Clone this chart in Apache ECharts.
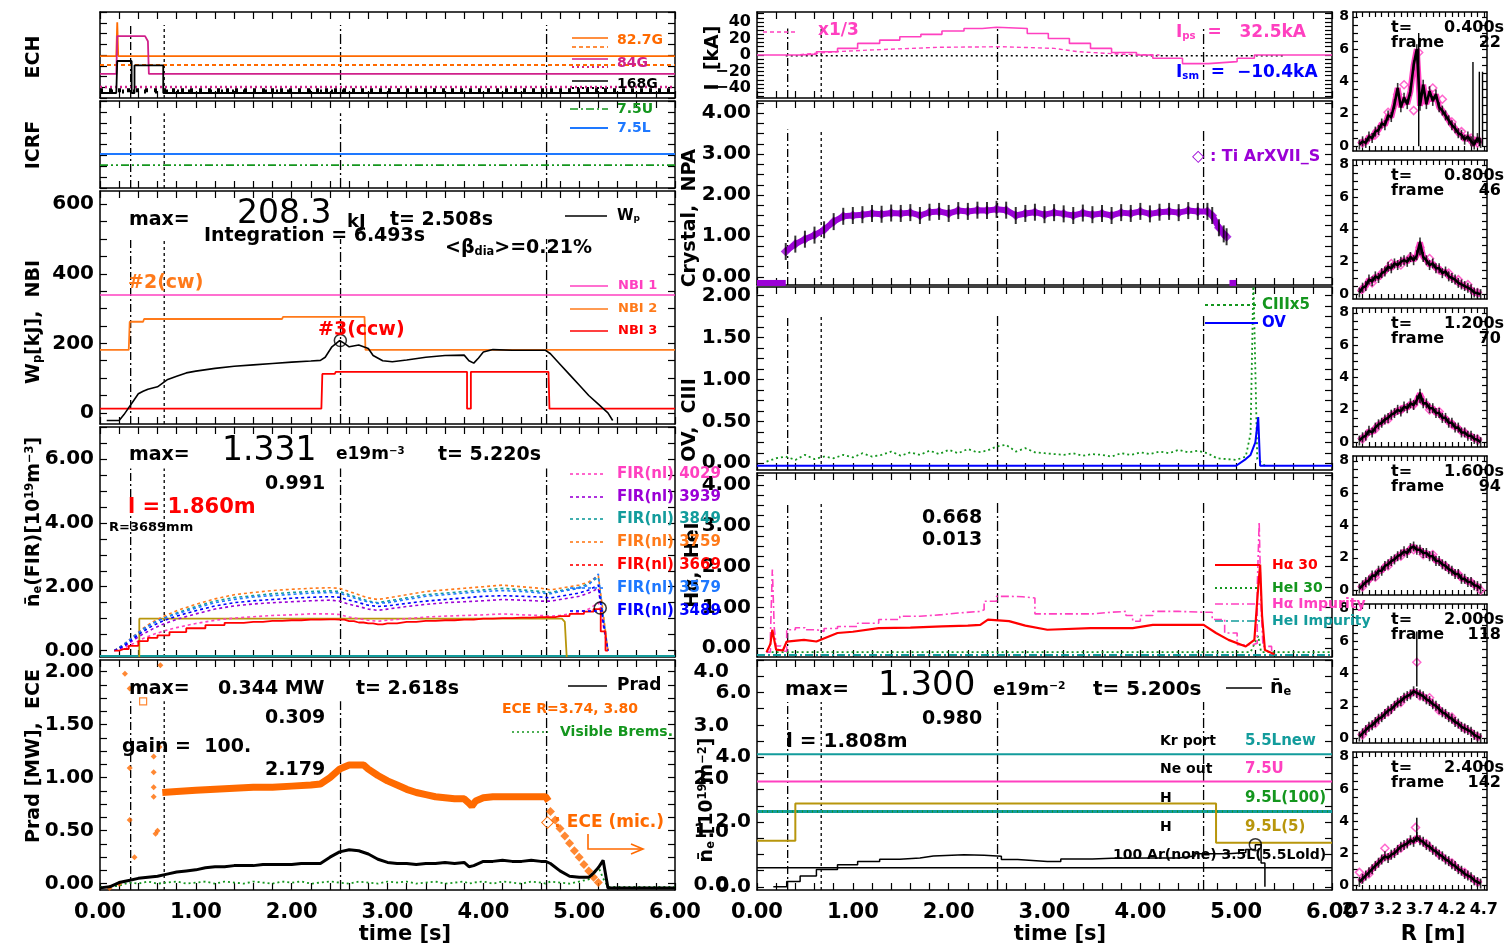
<!DOCTYPE html>
<html><head><meta charset="utf-8">
<script src="https://cdn.jsdelivr.net/npm/echarts@6/dist/echarts.min.js"></script>
<style>html,body{margin:0;padding:0;background:#fff}#c{width:1506px;height:948px}</style>
</head><body><div id="c"></div>
<script>
// ---------------- DATA ----------------
const TIME_LABELS = [0,1,2,3,4,5,6];
const R_LABELS = [2.7,3.2,3.7,4.2,4.7];
const VLINES = [0.32, 0.67, 2.51, 4.66];

// ECH (arb. units)
const ech827  = [[0,4.88],[0.17,4.88],[0.18,8.8],[0.19,4.88],[6,4.88]];
const ech827d = [[0,3.84],[6,3.84]];
const ech84   = [[0,2.8],[0.17,2.8],[0.18,7.2],[0.47,7.2],[0.5,6.6],[0.51,2.8],[6,2.8]];
const ech84d  = [[0,1.28],[6,1.28]];
const ech168  = [[0,0.58],[0.17,0.58],[0.18,4.3],[0.33,4.3],[0.33,0.58],[0.36,0.58],[0.36,3.8],[0.66,3.8],[0.66,0.58],[6,0.58]];
const ech168d = [[0,0.9],[6,0.9]];
const ech168n = [[0,0.75],[2.7,0.75]];
// ICRF
const icrf75L = [[0,3.9],[6,3.9]];
const icrf75U = [[0,2.64],[6,2.64]];
// Wp / NBI
const wpT = [0.07,0.2,0.25,0.3,0.35,0.4,0.45,0.5,0.6,0.65,0.7,0.8,0.9,1.0,1.2,1.4,1.6,1.8,2.0,2.2,2.3,2.35,2.42,2.5,2.55,2.6,2.7,2.8,2.85,2.95,3.05,3.2,3.4,3.6,3.8,3.85,3.9,3.95,4.0,4.1,4.3,4.65,4.7,4.8,4.9,5.0,5.1,5.2,5.3,5.35];
const wpV = [-22,-22,-5,15,35,55,62,68,75,85,95,105,115,120,128,134,138,142,146,149,151,160,190,208,200,190,195,185,165,150,147,152,160,165,166,150,143,158,175,182,180,180,170,140,110,80,50,25,0,-22];
const nbi1 = [[0,339],[6,339]];
const nbi2 = [[0,181],[0.3,181],[0.31,262],[0.45,262],[0.46,270],[1.9,270],[1.91,276],[2.76,276],[2.77,181],[6,181]];
const nbi3 = [[0,12],[2.31,12],[2.32,112],[2.45,112],[2.46,118],[3.83,118],[3.83,12],[3.87,12],[3.87,118],[4.68,118],[4.69,12],[6,12]];
const wpMax = [[2.508,208.3]];
// FIR line density
const tF = [0.15,0.25,0.35,0.45,0.55,0.65,0.8,1.0,1.2,1.4,1.6,1.8,2.0,2.2,2.4,2.5,2.6,2.7,2.8,2.9,3.0,3.2,3.4,3.6,3.8,4.0,4.2,4.4,4.6,4.7,4.8,5.0,5.1,5.2,5.25,5.3];
const fir4029 = [0.0,0.08,0.22,0.38,0.5,0.6,0.72,0.85,0.95,1.02,1.06,1.1,1.12,1.15,1.15,1.13,1.05,1.0,0.95,0.92,0.95,1.0,1.05,1.08,1.1,1.12,1.15,1.12,1.1,1.08,1.1,1.2,1.3,1.5,0.8,0.0];
const fir3939 = [0.0,0.12,0.33,0.52,0.68,0.82,0.98,1.15,1.3,1.4,1.46,1.5,1.53,1.56,1.58,1.55,1.45,1.38,1.3,1.26,1.3,1.38,1.45,1.5,1.53,1.56,1.6,1.58,1.55,1.55,1.6,1.7,1.8,1.95,0.9,0.0];
const fir3849 = [0.0,0.18,0.42,0.66,0.85,1.0,1.18,1.38,1.55,1.66,1.72,1.78,1.82,1.85,1.87,1.85,1.75,1.65,1.55,1.5,1.55,1.65,1.75,1.8,1.85,1.9,1.95,1.9,1.85,1.82,1.88,1.98,2.1,2.3,1.1,0.0];
const fir3759 = [0.0,0.2,0.45,0.7,0.9,1.05,1.25,1.45,1.62,1.75,1.82,1.88,1.92,1.95,1.97,1.95,1.85,1.75,1.65,1.6,1.65,1.75,1.85,1.9,1.95,2.0,2.05,2.0,1.95,1.9,1.95,2.05,2.15,2.35,1.2,0.0];
const fir3669 = [0.0,0.05,0.15,0.3,0.4,0.48,0.58,0.7,0.8,0.87,0.9,0.93,0.95,0.97,0.98,0.97,0.92,0.88,0.85,0.82,0.85,0.9,0.93,0.95,0.97,1.0,1.02,1.03,1.05,1.05,1.08,1.15,1.22,1.3,0.6,0.0];
const fir3579 = [0.0,0.2,0.44,0.68,0.86,1.0,1.15,1.33,1.5,1.6,1.68,1.72,1.76,1.8,1.82,1.8,1.7,1.6,1.52,1.48,1.5,1.6,1.7,1.75,1.8,1.85,1.88,1.85,1.8,1.78,1.85,1.95,2.05,2.4,1.0,0.0];
const fir3489 = [0.0,0.15,0.38,0.6,0.78,0.92,1.08,1.25,1.4,1.5,1.56,1.6,1.64,1.67,1.69,1.67,1.58,1.5,1.42,1.38,1.4,1.48,1.55,1.6,1.65,1.7,1.72,1.7,1.68,1.65,1.7,1.8,1.9,2.05,0.9,0.0];
const firGold = [[0.41,-0.2],[0.41,1.0],[4.82,1.0],[4.85,0.9],[4.87,-0.2]];
const firBase = [[0,-0.17],[6,-0.17]];
const firMax = [[5.22,1.331]];
// Prad / ECE
const tP = [0,0.1,0.2,0.3,0.4,0.5,0.6,0.7,0.8,0.9,1.0,1.1,1.2,1.3,1.4,1.5,1.6,1.7,1.8,1.9,2.0,2.1,2.2,2.3,2.4,2.5,2.6,2.7,2.8,2.9,3.0,3.1,3.2,3.3,3.4,3.5,3.6,3.7,3.8,3.85,3.9,4.0,4.1,4.2,4.3,4.4,4.5,4.6,4.65,4.7,4.8,4.9,5.0,5.1,5.15,5.2,5.25,5.3,5.4,6.0];
const prad = [-0.04,-0.03,0.01,0.03,0.05,0.06,0.07,0.09,0.11,0.12,0.13,0.15,0.16,0.16,0.17,0.17,0.17,0.18,0.18,0.18,0.18,0.19,0.19,0.19,0.25,0.3,0.32,0.31,0.28,0.23,0.2,0.19,0.19,0.18,0.19,0.19,0.2,0.19,0.2,0.16,0.17,0.21,0.21,0.22,0.21,0.21,0.22,0.21,0.21,0.19,0.12,0.07,0.06,0.06,0.1,0.15,0.22,-0.04,-0.04,-0.04];
const brems = [-0.03,-0.03,-0.02,0.01,0.0,0.02,0.0,0.01,0.02,0.0,0.01,0.02,0.0,0.02,0.01,0.0,0.02,0.01,0.0,0.02,0.01,0.02,0.0,0.01,0.02,0.01,0.0,0.02,0.01,0.0,0.02,0.01,0.02,0.0,0.01,0.02,0.0,0.01,0.02,0.0,0.01,0.02,0.0,0.02,0.01,0.0,0.02,0.01,0.0,0.02,0.01,0.0,0.02,0.04,0.08,0.16,0.05,-0.03,-0.03,-0.03];
const tE = [0.65,0.8,1.0,1.2,1.4,1.6,1.8,2.0,2.2,2.3,2.4,2.5,2.55,2.6,2.7,2.75,2.8,2.9,3.0,3.1,3.2,3.3,3.4,3.5,3.6,3.7,3.8,3.85,3.88,3.92,4.0,4.1,4.3,4.5,4.65,4.68];
const ece = [0.86,0.87,0.88,0.89,0.9,0.91,0.91,0.92,0.93,0.94,1.0,1.08,1.1,1.12,1.12,1.12,1.08,1.02,0.97,0.93,0.89,0.86,0.84,0.82,0.81,0.8,0.8,0.76,0.73,0.78,0.81,0.82,0.82,0.82,0.82,0.78];
const eceMic = [[4.7,0.68],[4.75,0.6],[4.8,0.52],[4.85,0.45],[4.9,0.38],[4.95,0.31],[5.0,0.25],[5.05,0.18],[5.1,0.12],[5.15,0.06],[5.2,0.01]];
const eceEarly = [[0.26,1.98],[0.31,1.84],[0.31,1.09],[0.31,0.6],[0.36,0.25],[0.56,1.2],[0.56,1.05],[0.56,0.91],[0.56,0.82],[0.58,0.47],[0.63,2.06],[0.62,1.29],[0.6,0.5],[0.2,0.0],[0.1,-0.04]];
const eceSq = [[0.45,1.72]];
// Ip (kA)
const ipSolid = [[0,0],[0.4,0],[0.45,1],[0.62,4],[0.84,8],[1.05,14],[1.28,18],[1.49,22],[1.71,25],[1.93,29],[2.16,32],[2.35,33.5],[2.5,32],[2.82,26],[3.04,20],[3.26,14],[3.48,8],[3.7,3],[3.96,0],[4.13,-4],[4.44,-10.4],[4.71,-8],[5.01,-4],[5.19,0],[6,0]];
const ipThird = [[0.45,0.5],[0.83,4],[1.17,6],[1.9,9.3],[2.55,10],[3.1,8],[3.35,4],[3.8,1],[4.2,0]];
const ipZero = [[0.3,-1],[5.5,-1]];
// Crystal Ti
const tCry = [0.3,0.4,0.5,0.6,0.7,0.8,0.9,1.0,1.1,1.2,1.3,1.4,1.5,1.6,1.7,1.8,1.9,2.0,2.1,2.2,2.3,2.4,2.5,2.6,2.7,2.8,2.9,3.0,3.1,3.2,3.3,3.4,3.5,3.6,3.7,3.8,3.9,4.0,4.1,4.2,4.3,4.4,4.5,4.6,4.7,4.75,4.82,4.87,4.9];
const tiCry = [0.62,0.8,0.92,1.02,1.15,1.35,1.48,1.5,1.52,1.55,1.53,1.56,1.55,1.57,1.5,1.58,1.6,1.55,1.62,1.6,1.63,1.62,1.65,1.63,1.5,1.55,1.58,1.52,1.57,1.54,1.5,1.56,1.52,1.55,1.5,1.57,1.55,1.6,1.54,1.58,1.6,1.57,1.62,1.6,1.6,1.5,1.2,1.05,0.98];
const cryBase1 = [[0,-0.15],[0.3,-0.15]];
const cryBase2 = [[4.93,-0.15],[5.0,-0.15]];
// CIII / OV
const tC3 = [0.1,0.2,0.3,0.4,0.5,0.6,0.7,0.8,0.9,1.0,1.1,1.2,1.3,1.4,1.5,1.6,1.7,1.8,1.9,2.0,2.1,2.2,2.3,2.4,2.5,2.6,2.7,2.8,2.9,3.0,3.1,3.2,3.3,3.4,3.5,3.6,3.7,3.8,3.9,4.0,4.1,4.2,4.3,4.4,4.5,4.6,4.7,4.8,4.9,5.0,5.1,5.15,5.18,5.2,5.22,5.3];
const ciii = [0.02,0.06,0.08,0.04,0.1,0.05,0.08,0.06,0.1,0.07,0.12,0.08,0.1,0.14,0.09,0.13,0.1,0.15,0.11,0.16,0.12,0.17,0.13,0.15,0.2,0.22,0.14,0.18,0.13,0.12,0.11,0.1,0.12,0.09,0.11,0.1,0.08,0.12,0.1,0.13,0.11,0.14,0.12,0.16,0.13,0.15,0.12,0.06,0.05,0.04,0.08,0.35,2.2,2.2,0.05,-0.03];
const ov = [[0,-0.03],[5.0,-0.03],[5.1,0.05],[5.15,0.1],[5.2,0.25],[5.23,0.55],[5.25,-0.03],[6,-0.03]];
// H-alpha
const haImp = [[0.1,-0.1],[0.14,0.3],[0.16,1.93],[0.18,0.5],[0.2,0.05],[0.25,-0.08],[0.31,0.45],[0.4,0.5],[0.5,0.45],[0.62,0.41],[0.7,0.48],[0.84,0.53],[1.05,0.61],[1.27,0.7],[1.49,0.78],[1.7,0.82],[1.93,0.86],[2.1,0.9],[2.33,0.94],[2.37,1.15],[2.5,1.27],[2.65,1.26],[2.77,1.23],[2.9,0.84],[3.26,0.84],[3.5,0.88],[3.7,0.9],[3.85,0.8],[3.92,0.66],[4.0,0.8],[4.13,0.9],[4.4,0.88],[4.66,0.88],[4.75,0.7],[4.88,0.37],[5.01,0.08],[5.17,0.12],[5.22,1.5],[5.24,3.1],[5.26,1.0],[5.28,0.04],[5.37,-0.16]];
const ha30 = [[0.1,-0.1],[0.14,0.1],[0.16,0.45],[0.18,0.2],[0.2,-0.04],[0.27,-0.06],[0.31,0.16],[0.49,0.2],[0.62,0.16],[0.84,0.37],[1.0,0.4],[1.27,0.49],[1.6,0.5],[1.93,0.53],[2.2,0.55],[2.33,0.57],[2.41,0.7],[2.63,0.66],[2.8,0.55],[3.03,0.45],[3.48,0.49],[3.92,0.49],[4.13,0.57],[4.66,0.57],[4.79,0.37],[4.92,0.2],[5.1,0.04],[5.19,0.2],[5.23,1.5],[5.25,2.05],[5.27,0.8],[5.3,-0.05],[5.4,-0.15]];
const heI30 = [[0.1,-0.1],[5.15,-0.1],[5.23,0.3],[5.26,-0.1],[6,-0.1]];
const heIImp = [[0,-0.17],[6,-0.17]];
// line-averaged density & gas puffs
const neKr = [[0,4.09],[6,4.09]];
const neNe = [[0,3.25],[6,3.25]];
const neH100 = [[0,2.32],[6,2.32]];
const neH5 = [[0,1.42],[0.4,1.42],[0.4,2.57],[4.79,2.57],[4.79,1.36],[6,1.36]];
const neAr = [[0,0.59],[6,0.59]];
const neBar = [[0.17,0],[0.31,0.16],[0.45,0.33],[0.62,0.53],[0.84,0.68],[1.05,0.78],[1.28,0.85],[1.49,0.89],[1.7,0.95],[1.84,0.99],[2.16,0.97],[2.37,0.94],[2.55,0.84],[2.72,0.78],[3.03,0.78],[3.17,0.86],[3.5,0.88],[3.7,0.89],[4.13,0.89],[4.4,0.95],[4.57,1.02],[4.92,1.06],[5.1,1.15],[5.2,1.3],[5.26,0.73],[5.3,0]];
const neMax = [[5.2,1.3]];
// profiles vs R
const RS = [2.75,2.80,2.85,2.90,2.95,3.00,3.05,3.10,3.15,3.20,3.25,3.30,3.35,3.40,3.45,3.50,3.55,3.60,3.65,3.70,3.75,3.80,3.85,3.90,3.95,4.00,4.05,4.10,4.15,4.20,4.25,4.30,4.35,4.40,4.45,4.50,4.55,4.60,4.65];
const prof1 = [0.1,0.3,0.2,0.6,0.5,0.9,1.0,1.4,1.3,1.9,1.8,2.6,3.6,2.4,3.0,2.6,3.4,5.0,6.0,2.5,3.8,2.6,3.4,2.8,3.2,2.4,2.2,1.9,1.6,1.3,1.1,0.8,0.7,0.4,0.6,0.3,0.1,0.5,0.2];
const prof2 = [0.1,0.4,0.5,0.9,0.8,1.1,1.0,1.3,1.4,1.7,1.6,1.9,1.8,2.0,2.1,2.0,2.3,2.1,2.4,3.2,2.3,2.1,1.8,1.9,1.6,1.6,1.3,1.4,1.1,1.0,0.9,0.7,0.6,0.5,0.4,0.3,0.1,0.05,0.0];
const prof3 = [0.1,0.3,0.4,0.7,0.6,0.9,1.1,1.2,1.4,1.5,1.7,1.8,2.0,1.9,2.2,2.1,2.4,2.3,2.6,3.0,2.4,2.4,2.1,2.1,1.8,1.8,1.5,1.5,1.2,1.2,0.9,0.9,0.6,0.6,0.4,0.4,0.2,0.15,0.0];
const prof4 = [0.1,0.3,0.5,0.6,0.9,0.9,1.2,1.2,1.5,1.6,1.8,1.9,2.1,2.2,2.4,2.3,2.6,2.7,2.5,2.5,2.3,2.3,2.1,2.1,1.8,1.8,1.6,1.5,1.3,1.2,1.0,1.0,0.7,0.7,0.5,0.5,0.3,0.25,0.1];
const prof5 = [0.1,0.3,0.5,0.7,0.8,1.0,1.2,1.3,1.5,1.7,1.8,2.0,2.2,2.3,2.5,2.6,2.7,2.9,2.8,2.7,2.6,2.4,2.3,2.1,2.0,1.8,1.6,1.5,1.3,1.2,1.0,0.9,0.7,0.6,0.5,0.4,0.2,0.1,0.0];
const prof6 = [0.2,0.4,0.6,0.8,1.0,1.2,1.4,1.6,1.8,1.7,1.9,2.0,2.2,2.4,2.5,2.6,2.8,2.7,3.0,2.8,2.7,2.5,2.4,2.2,2.1,1.9,1.8,1.6,1.5,1.3,1.2,1.0,0.9,0.7,0.6,0.5,0.3,0.2,0.1];
const pink1 = [[2.8,0.2],[3.0,0.7],[3.2,2.1],[3.35,3.2],[3.45,3.8],[3.6,2.2],[3.68,5.8],[3.8,2.8],[3.9,3.6],[4.05,2.9],[4.2,1.5],[4.35,0.9],[4.5,0.5],[4.6,0.2]];
const pink2 = [[2.8,0.3],[2.95,0.7],[3.1,1.3],[3.25,1.9],[3.4,1.8],[3.55,2.3],[3.7,2.9],[3.85,2.2],[4.0,1.5],[4.15,1.3],[4.3,0.9],[4.45,0.6],[4.6,0.1]];
const pink3 = [[2.8,0.2],[3.0,0.8],[3.2,1.4],[3.4,2.0],[3.6,2.3],[3.7,2.8],[3.85,2.0],[4.0,1.9],[4.2,1.1],[4.4,0.6],[4.6,0.2]];
const pink4 = [[2.8,0.2],[3.0,0.8],[3.2,1.5],[3.4,2.1],[3.6,2.5],[3.75,2.2],[3.9,2.2],[4.1,1.5],[4.3,1.0],[4.5,0.5],[4.65,0.0]];
const pink5 = [[2.8,0.2],[3.0,0.9],[3.2,1.6],[3.4,2.2],[3.65,4.7],[3.7,2.6],[3.85,2.5],[4.0,1.7],[4.2,1.3],[4.4,0.6],[4.6,0.1]];
const pink6 = [[2.75,0.8],[2.9,0.7],[3.15,2.3],[3.4,2.3],[3.63,3.6],[3.8,2.6],[4.0,1.9],[4.2,1.4],[4.4,0.8],[4.6,0.2]];
const errBars = [
  [[[3.68,0],[3.68,7.0]],[[4.53,0],[4.53,5.2]],[[4.63,0],[4.63,4.6]],[[4.68,0],[4.68,4.6]]],
  [[[3.7,2.4],[3.7,3.3]]],
  [[[3.7,2.4],[3.7,3.1]]],
  [],
  [[[3.65,3.2],[3.65,6.6]]],
  [[[3.65,2.8],[3.65,4.2]]]
];
const FRAME_TIMES = ['0.400s','0.800s','1.200s','1.600s','2.000s','2.400s'];
const FRAME_NUMS = ['22','46','70','94','118','142'];

// ---------------- STYLE / LAYOUT ----------------
const FF = '"DejaVu Sans", sans-serif';
const C = {org:'#ff6a00', orgL:'#ff7a1a', pink:'#ff40c0', ech84:'#d0208a', red:'#ff0000', grn:'#14961e', blu:'#0000ff', azu:'#1e78ff', teal:'#139c9c', pur:'#9b00d6', gold:'#b8960c'};
const f2 = v => v.toFixed(2), f1 = v => v.toFixed(1), fi = v => (v < 0 ? '\u2212' + Math.abs(v) : String(v));
function rng(a,b,s){const r=[];for(let k=0;a+k*s<=b+1e-9;k++) r.push(Math.round((a+k*s)*1000)/1000);return r;}
function zip(a,b){return a.map((x,i)=>[x,b[i]]);}
const LX=100, MX=757, CW=575, RX=1353, RW=134;
const RTOPS = [12,160,308,456,604,752];
const panels = [
  {x:LX,w:CW,top:12,h:86,ymin:0,ymax:10,yt:rng(0,10,1.25),yl:[],vt:8.5},
  {x:LX,w:CW,top:101,h:87,ymin:0,ymax:10,yt:rng(0,10,1.25),yl:[],vt:8.6},
  {x:LX,w:CW,top:191,h:233,ymin:-32,ymax:638,yt:rng(0,600,50),yl:[0,200,400,600],fmt:String,vt:500},
  {x:LX,w:CW,top:427,h:230,ymin:-0.2,ymax:7.0,yt:rng(0,7,0.5),yl:[0,2,4,6],fmt:f2,vt:5.7},
  {x:LX,w:CW,top:660,h:230,ymin:-0.06,ymax:2.11,yt:rng(0,2,0.125),yl:[0,0.5,1,1.5,2],fmt:f2,vt:1.72,xl:true},
  {x:MX,w:CW,top:12,h:86,ymin:-52,ymax:52,yt:rng(-50,50,5),yl:[-40,-20,0,20,40],fmt:fi,vt:32,ls:16},
  {x:MX,w:CW,top:101,h:184,ymin:-0.2,ymax:4.3,yt:rng(0,4.25,0.25),yl:[0,1,2,3,4],fmt:f2,vt:3.6},
  {x:MX,w:CW,top:287,h:183,ymin:-0.08,ymax:2.1,yt:rng(0,2,0.125),yl:[0,0.5,1,1.5,2],fmt:f2,vt:1.76},
  {x:MX,w:CW,top:473,h:184,ymin:-0.22,ymax:4.3,yt:rng(0,4.25,0.25),yl:[0,1,2,3,4],fmt:f2,vt:3.58},
  {x:MX,w:CW,top:660,h:230,ymin:-0.1,ymax:7.0,yt:rng(0,7,0.5),yl:[0,2,4,6],fmt:f1,vt:5.7,xl:true}
];
RTOPS.forEach((t,k)=>panels.push({x:RX,w:RW,top:t,h:(k===5?138:139),ymin:-0.3,ymax:8.3,yt:rng(0,8,0.5),yl:[0,2,4,6,8],fmt:String,ls:14,xl:(k===5),R:true}));

const grid=[], xAxis=[], yAxis=[], series=[];
const axLine = {show:true, onZero:false, lineStyle:{color:'#000', width:1.5}};
function tick(vals,len){return {show:true, inside:true, length:len, customValues:vals, lineStyle:{color:'#000', width:1.2}};}
const TT = rng(0,6,0.2), RT = rng(2.7,4.7,0.1);
panels.forEach((p,i)=>{
  grid.push({left:p.x, top:p.top, width:p.w, height:p.h, show:false});
  const xmin = p.R?2.65:0, xmax = p.R?4.75:6, xt = p.R?RT:TT, tl = p.R?5:7;
  const lab = p.xl ? {show:true, hideOverlap:false, customValues:p.R?R_LABELS:TIME_LABELS, formatter:p.R?f1:f2, color:'#000', fontSize:p.R?16:21, fontWeight:'bold', fontFamily:FF, margin:12} : {show:false};
  xAxis.push({gridIndex:i, type:'value', position:'bottom', min:xmin, max:xmax, axisLine:axLine, axisTick:tick(xt,tl), splitLine:{show:false}, axisLabel:lab});
  xAxis.push({gridIndex:i, type:'value', position:'top', min:xmin, max:xmax, axisLine:axLine, axisTick:tick(xt,tl), splitLine:{show:false}, axisLabel:{show:false}});
  const ylab = p.yl.length ? {show:true, hideOverlap:false, customValues:p.yl, formatter:p.fmt, color:'#000', fontSize:p.ls||20, fontWeight:'bold', fontFamily:FF, margin:p.R?4:6} : {show:false};
  yAxis.push({gridIndex:i, type:'value', position:'left', min:p.ymin, max:p.ymax, axisLine:axLine, axisTick:tick(p.yt,p.R?5:7), splitLine:{show:false}, axisLabel:ylab});
  yAxis.push({gridIndex:i, type:'value', position:'right', min:p.ymin, max:p.ymax, axisLine:axLine, axisTick:tick(p.yt,p.R?5:7), splitLine:{show:false}, axisLabel:{show:false}});
});
// secondary left axis on bottom-middle panel
yAxis.push({gridIndex:9, type:'value', position:'left', offset:22, min:-0.094, max:4.23, axisLine:{show:false}, axisTick:{show:false}, splitLine:{show:false},
  axisLabel:{show:true, hideOverlap:false, customValues:[0,1,2,3,4], formatter:f1, color:'#000', fontSize:20, fontWeight:'bold', fontFamily:FF, margin:6}});

function ln(g,data,color,o){o=o||{};return {type:'line', xAxisIndex:2*g, yAxisIndex:2*g, data:data, symbol:'none', showSymbol:false, step:o.step||false,
  lineStyle:{color:color, width:o.w||1.5, type:o.d||'solid'}, z:o.z||3, silent:true, animation:false, clip:true};}
function sc(g,data,color,o){o=o||{};return {type:'scatter', xAxisIndex:2*g, yAxisIndex:2*g, data:data, symbol:o.sym||'circle', symbolSize:o.size||6,
  itemStyle:o.hollow?{color:'rgba(0,0,0,0)', borderColor:color, borderWidth:o.bw||1.5}:{color:color}, z:o.z||4, silent:true, animation:false};}
const DD=[8,3,2,3], DOT=[2,3], DASH=[4,3], D3=[8,3,2,3,2,3];
// vertical timing lines
const VSTY = [[8,3,2,3],[3,3],[10,3,2,3],[10,3,2,3]];
for(let g=0; g<10; g++){ const p=panels[g]; VLINES.forEach((t,k)=>series.push(ln(g,[[t,p.ymin],[t,p.vt]],'#000',{d:VSTY[k],w:1.3,z:2}))); }

// ECH
series.push(ln(0,ech827,C.org,{w:1.8}), ln(0,ech827d,C.org,{d:DASH,w:1.8}), ln(0,ech84,C.ech84,{w:1.8}), ln(0,ech84d,C.ech84,{d:DOT,w:2.5}),
  ln(0,ech168,'#000',{w:1.8}), ln(0,ech168d,'#000',{d:[3,6],w:4}), ln(0,ech168n,'#000',{d:[2,9],w:4}));
// ICRF
series.push(ln(1,icrf75L,C.azu,{w:2}), ln(1,icrf75U,C.grn,{d:D3,w:1.8}));
// Wp / NBI
series.push(ln(2,nbi1,C.pink,{w:1.5}), ln(2,nbi2,C.orgL,{w:1.8}), ln(2,nbi3,C.red,{w:1.8}), ln(2,zip(wpT,wpV),'#000',{w:1.6,z:5}),
  sc(2,wpMax,'#000',{size:12,hollow:true}));
// FIR
series.push(ln(3,firBase,C.teal,{w:2}), ln(3,firGold,C.gold,{w:1.8}),
  ln(3,zip(tF,fir4029),C.pink,{d:[3,3],w:1.6}), ln(3,zip(tF,fir3939),C.pur,{d:[3,3],w:1.6}), ln(3,zip(tF,fir3849),C.teal,{d:[3,3],w:1.6}),
  ln(3,zip(tF,fir3759),C.orgL,{d:[3,3],w:1.6}), ln(3,zip(tF,fir3579),C.azu,{d:[3,3],w:1.6}), ln(3,zip(tF,fir3489),C.blu,{d:[3,3],w:1.6}),
  ln(3,zip(tF,fir3669),C.red,{w:1.8,step:'middle'}), sc(3,firMax,'#000',{size:12,hollow:true}));
// Prad / ECE
series.push(ln(4,zip(tP,brems),C.grn,{d:DOT,w:1.8}), ln(4,zip(tE,ece),C.org,{w:7}), sc(4,eceMic,C.org,{sym:'diamond',size:9}),
  sc(4,eceEarly,C.org,{sym:'diamond',size:6}), sc(4,eceSq,C.org,{sym:'rect',size:7,hollow:true,bw:1.2}), ln(4,zip(tP,prad),'#000',{w:3,z:5}));
// Ip
series.push(ln(5,ipZero,'#000',{d:DOT,w:1.5,z:2}), ln(5,ipSolid,C.pink,{w:1.6,step:'end'}), ln(5,ipThird,C.pink,{d:DASH,w:1.4}));
// Crystal
series.push(ln(6,cryBase1,C.pur,{w:6}), ln(6,cryBase2,C.pur,{w:6}), ln(6,zip(tCry,tiCry),C.pur,{w:6}),
  sc(6,zip(tCry,tiCry),C.pur,{sym:'diamond',size:10}), sc(6,zip(tCry,tiCry),'#000',{sym:'rect',size:[2,17],z:6}));
// CIII / OV
series.push(ln(7,zip(tC3,ciii),C.grn,{d:DOT,w:1.8}), ln(7,ov,C.blu,{w:2}));
// H-alpha
series.push(ln(8,heIImp,C.teal,{d:DD,w:2}), ln(8,heI30,C.grn,{d:DOT,w:1.8}), ln(8,haImp,C.pink,{d:DD,w:1.6,step:'end'}), ln(8,ha30,C.red,{w:2.2}));
// ne + gas puffs
series.push(ln(9,neKr,C.teal,{w:1.8}), ln(9,neNe,C.pink,{w:1.8}), ln(9,neH100,C.teal,{w:3}), ln(9,neH100,C.grn,{d:[1,4],w:2}),
  ln(9,neH5,C.gold,{w:2}), ln(9,neAr,'#000',{w:1.5}), ln(9,neBar,'#000',{w:1.5,step:'end'}), sc(9,neMax,'#000',{size:12,hollow:true}));
// profiles
const PROFS=[prof1,prof2,prof3,prof4,prof5,prof6], PINKS=[pink1,pink2,pink3,pink4,pink5,pink6];
PROFS.forEach((pv,k)=>{ const g=10+k, d=zip(RS,pv);
  series.push(ln(g,d,C.pink,{w:6,z:2}), sc(g,PINKS[k],C.pink,{sym:'diamond',size:8,hollow:true,bw:1.5,z:3}), ln(g,d,'#000',{w:2.6,z:4}),
    sc(g,d,'#000',{sym:'rect',size:[1.6,10],z:5}));
  errBars[k].forEach(seg=>series.push(ln(g,seg,'#000',{w:1.4,z:5})));
});

// ---------------- TEXT ----------------
function rich(col,s){return {sub:{fontSize:s, verticalAlign:'bottom', fill:col, fontFamily:FF, fontWeight:'bold'}, sup:{fontSize:s, verticalAlign:'top', fill:col, fontFamily:FF, fontWeight:'bold'}};}
function T(x,y,s,o){o=o||{};return {type:'text', x:x, y:y, rotation:o.r||0, z:100, silent:true,
  style:{text:s, fill:o.c||'#000', fontSize:o.s||19, fontFamily:FF, fontWeight:o.w||'bold', align:o.a||'left', verticalAlign:'middle', rich:o.rich||rich(o.c||'#000',(o.s||19)*0.6)}};}
function GL(x1,y1,x2,y2,c,o){o=o||{};return {type:'line', z:100, silent:true, shape:{x1:x1,y1:y1,x2:x2,y2:y2}, style:{stroke:c, lineWidth:o.w||1.6, lineDash:o.d||null}};}
const RV = Math.PI/2;
const G = [
  // left titles
  T(34,57,'ECH',{r:RV,a:'center',s:19}), T(34,145,'ICRF',{r:RV,a:'center',s:19}),
  T(34,322,'W{sub|p}[kJ],  NBI',{r:RV,a:'center',s:19}),
  T(34,522,'n\u0304{sub|e}(FIR)[10{sup|19}m{sup|\u22123}]',{r:RV,a:'center',s:19}),
  T(34,756,'Prad [MW],  ECE',{r:RV,a:'center',s:19}),
  // middle titles
  T(713,58,'I  [kA]',{r:RV,a:'center',s:19}),
  T(690,218,'Crystal,  NPA',{r:RV,a:'center',s:19}),
  T(690,420,'OV,  CIII',{r:RV,a:'center',s:19}),
  T(693,565,'H\u03b1,  HeI',{r:RV,a:'center',s:19}),
  T(707,800,'n\u0304{sub|e} [10{sup|19}m{sup|\u22122}]',{r:RV,a:'center',s:19}),
  // ECH legend
  GL(572,38,608,38,C.org), GL(572,47,608,47,C.org,{d:[4,3]}), T(617,40,'82.7G',{c:C.org,s:14}),
  GL(572,59,608,59,C.ech84), GL(572,67,608,67,C.ech84,{d:[2,3],w:2}), T(617,63,'84G',{c:C.ech84,s:14}),
  GL(572,81,608,81,'#000'), GL(572,88,608,88,'#000',{d:[2,3],w:2}), T(617,84,'168G',{s:14}),
  // ICRF legend
  GL(570,109,608,109,C.grn,{d:[8,3,2,3]}), T(617,109,'7.5U',{c:C.grn,s:14}),
  GL(570,128,608,128,C.azu,{w:2}), T(617,128,'7.5L',{c:C.azu,s:14}),
  // Wp texts
  T(129,220,'max='), T(237,214,'208.3',{s:33,w:'normal'}), T(347,222,'kJ',{s:18}), T(390,220,'t= 2.508s'),
  T(204,236,'Integration = 6.493s'), T(445,248,'<\u03b2{sub|dia}>=0.21%'),
  T(128,283,'#2(cw)',{c:C.orgL}), T(318,330,'#3(ccw)',{c:C.red}),
  GL(565,216,607,216,'#000'), T(617,216,'W{sub|p}',{s:15}),
  GL(570,286,608,286,C.pink), T(618,286,'NBI 1',{c:C.pink,s:13}),
  GL(570,309,608,309,C.orgL), T(618,309,'NBI 2',{c:C.orgL,s:13}),
  GL(570,331,608,331,C.red), T(618,331,'NBI 3',{c:C.red,s:13}),
  // FIR texts
  T(129,455,'max='), T(222,451,'1.331',{s:33,w:'normal'}), T(336,455,'e19m{sup|\u22123}',{s:17}), T(438,455,'t= 5.220s'),
  T(265,484,'0.991'), T(128,508,'l = 1.860m',{c:C.red,s:21}), T(109,528,'R=3689mm',{s:13}),
  GL(570,474,604,474,C.pink,{d:[3,3]}), T(617,474,'FIR(nl) 4029',{c:C.pink,s:15}),
  GL(570,497,604,497,C.pur,{d:[3,3]}), T(617,497,'FIR(nl) 3939',{c:C.pur,s:15}),
  GL(570,519,604,519,C.teal,{d:[3,3]}), T(617,519,'FIR(nl) 3849',{c:C.teal,s:15}),
  GL(570,542,604,542,C.orgL,{d:[3,3]}), T(617,542,'FIR(nl) 3759',{c:C.orgL,s:15}),
  GL(570,565,604,565,C.red,{d:[3,3]}), T(617,565,'FIR(nl) 3669',{c:C.red,s:15}),
  GL(570,588,604,588,C.azu,{d:[3,3]}), T(617,588,'FIR(nl) 3579',{c:C.azu,s:15}),
  GL(570,611,604,611,C.blu,{d:[3,3]}), T(617,611,'FIR(nl) 3489',{c:C.blu,s:15}),
  // Prad texts
  T(129,689,'max='), T(218,689,'0.344 MW'), T(356,689,'t= 2.618s'), T(265,718,'0.309'), T(122,747,'gain =  100.'), T(265,770,'2.179'),
  GL(568,686,607,686,'#000'), T(617,686,'Prad',{s:17}),
  T(502,709,'ECE R=3.74, 3.80',{c:C.org,s:14}),
  GL(512,732,548,732,C.grn,{d:[2,3]}), T(560,732,'Visible Brems.',{c:C.grn,s:14}),
  T(541,823,'\u25c7: ECE (mic.)',{c:C.org,s:17}),
  {type:'polyline', z:100, silent:true, shape:{points:[[588,834],[588,849],[641,849]]}, style:{stroke:C.org, lineWidth:1.6, fill:null}},
  {type:'polyline', z:100, silent:true, shape:{points:[[631,844],[643,849],[631,854]]}, style:{stroke:C.org, lineWidth:1.6, fill:null}},
  T(405,935,'time [s]',{a:'center',s:21}),
  // Ip texts
  GL(763,32,797,32,C.pink,{d:[4,3]}), T(818,31,'x1/3',{c:C.pink,s:17}),
  T(1176,33,'I{sub|ps}  =   32.5kA',{c:C.pink,s:17}),
  T(1176,73,'I{sub|sm}  =  \u221210.4kA',{c:C.blu,s:17}),
  // crystal
  T(1192,157,'\u25c7 : Ti ArXVII_S',{c:C.pur,s:16}),
  // CIII
  GL(1205,305,1258,305,C.grn,{d:[3,3],w:2}), T(1262,305,'CIIIx5',{c:C.grn,s:15}),
  GL(1205,323,1258,323,C.blu,{w:2}), T(1262,323,'OV',{c:C.blu,s:15}),
  // Halpha
  T(922,518,'0.668'), T(922,540,'0.013'),
  GL(1215,565,1260,565,C.red,{w:2}), T(1272,565,'H\u03b1 30',{c:C.red,s:14}),
  GL(1215,588,1260,588,C.grn,{d:[2,3],w:2}), T(1272,588,'HeI 30',{c:C.grn,s:14}),
  GL(1215,604,1260,604,C.pink,{d:[8,3,2,3]}), T(1272,604,'H\u03b1 Impurity',{c:C.pink,s:14}),
  GL(1215,621,1260,621,C.teal,{d:[8,3,2,3]}), T(1272,621,'HeI Impurity',{c:C.teal,s:14}),
  // ne bottom
  T(785,690,'max=',{s:20}), T(878,686,'1.300',{s:34,w:'normal'}), T(993,690,'e19m{sup|\u22122}',{s:18}), T(1093,690,'t= 5.200s',{s:20}),
  GL(1226,688,1262,688,'#000'), T(1270,688,'n\u0304{sub|e}',{s:19}),
  T(922,719,'0.980'), T(786,742,'l = 1.808m',{s:20}),
  T(1160,741,'Kr port',{s:14}), T(1245,741,'5.5Lnew',{c:C.teal,s:15}),
  T(1160,769,'Ne out',{s:14}), T(1245,769,'7.5U',{c:C.pink,s:15}),
  T(1160,798,'H',{s:14}), T(1245,798,'9.5L(100)',{c:C.grn,s:15}),
  T(1160,827,'H',{s:14}), T(1245,827,'9.5L(5)',{c:C.gold,s:15}),
  T(1113,855,'100 Ar(none) 3.5L(5.5Lold)',{s:14}),
  T(1060,935,'time [s]',{a:'center',s:21}),
  T(1433,935,'R [m]',{a:'center',s:21})
];
RTOPS.forEach((t,k)=>{
  G.push(T(1391,t+16,'t=',{s:16}), T(1444,t+16,FRAME_TIMES[k],{s:16}), T(1391,t+31,'frame',{s:16}), T(1501,t+31,FRAME_NUMS[k],{s:16,a:'right'}));
});

const chart = echarts.init(document.getElementById('c'), null, {renderer:'canvas'});
chart.setOption({backgroundColor:'#fff', animation:false, grid:grid, xAxis:xAxis, yAxis:yAxis, series:series, graphic:G});
</script></body></html>
